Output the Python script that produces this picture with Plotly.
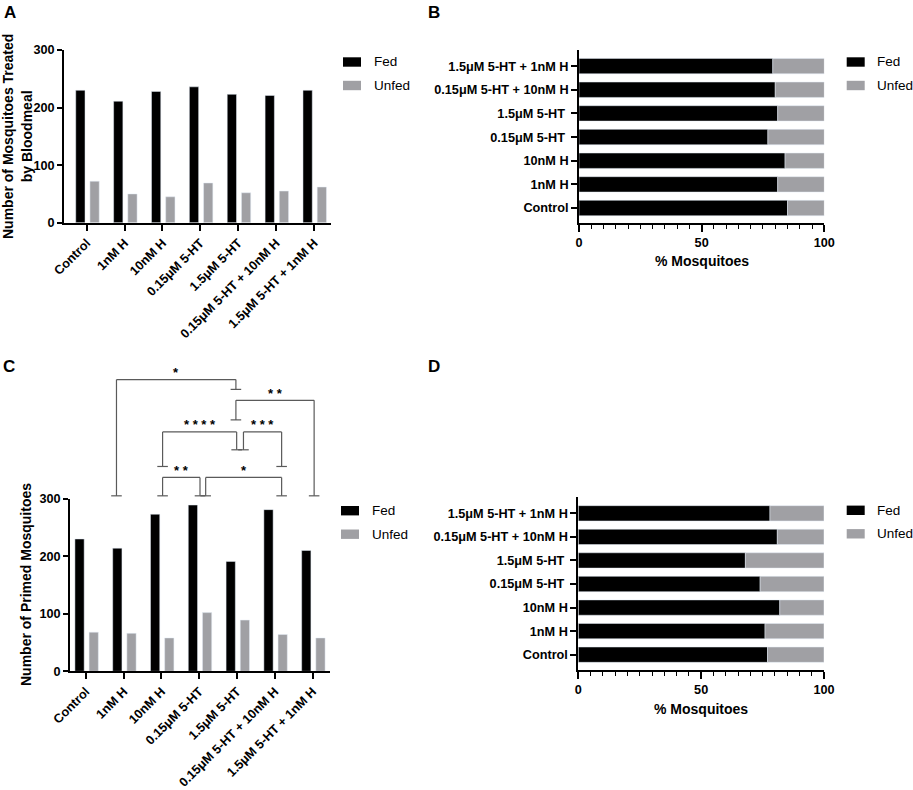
import plotly.graph_objects as go

W, H = 913, 790
FONT = "Liberation Sans, Arial, Helvetica, sans-serif"
FED_COLOR = "#000000"
UNFED_COLOR = "#a0a0a4"
BRACKET_COLOR = "#5a5a5a"

# ---------------- data ----------------
categories = ["Control", "1nM H", "10nM H", "0.15μM 5-HT", "1.5μM 5-HT",
              "0.15μM 5-HT + 10nM H", "1.5μM 5-HT + 1nM H"]
hbar_labels = ["Control", "1nM H", "10nM H", "0.15μM 5-HT\u00a0", "1.5μM 5-HT\u00a0",
               "0.15μM 5-HT + 10nM H", "1.5μM 5-HT + 1nM H"]
legend_labels = ["Fed", "Unfed"]

a_fed = [230, 211, 228, 236, 223, 221, 230]
a_unfed = [72, 50, 45, 69, 52, 55, 62]

b_fed_pct = [85, 81, 84, 77, 81, 80, 79]
b_unfed_pct = [15, 19, 16, 23, 19, 20, 21]

c_fed = [230, 214, 273, 289, 191, 281, 210]
c_unfed = [68, 66, 58, 102, 89, 64, 58]

d_fed_pct = [77, 76, 82, 74, 68, 81, 78]
d_unfed_pct = [23, 24, 18, 26, 32, 19, 22]

y_ticks = [0, 100, 200, 300]
pct_ticks = [0, 50, 100]

# significance brackets for panel C:
# (x_left, x_right, y_top, y_left_end, y_right_end, label) in category / count units
c_brackets = [
    (0.81, 3.97, 507, 305, 490, "*"),
    (3.97, 6.04, 471, 437, 305, "* *"),
    (2.03, 3.99, 416, 356, 385, "* * * *"),
    (4.17, 5.18, 416, 385, 356, "* * *"),
    (2.03, 3.02, 337, 305, 305, "* *"),
    (3.17, 5.18, 337, 305, 305, "*"),
]


def px(x):
    return x / W


def py(y):
    return 1 - y / H


# panel domains (paper)
A_X = [px(64), px(331)]
A_Y = [py(222.7), py(50)]
B_X = [px(579), px(824.3)]
B_Y = [py(222.7), py(50)]
C_X = [px(70), px(330)]
C_Y = [py(671.3), py(498.7)]
D_X = [px(578.3), px(824)]
D_Y = [py(670), py(497.3)]

fig = go.Figure()

# Panel A
fig.add_trace(go.Bar(x=categories, y=a_fed, name="Fed", marker_color=FED_COLOR,
                     width=0.245, offset=-0.29, xaxis="x", yaxis="y", showlegend=False))
fig.add_trace(go.Bar(x=categories, y=a_unfed, name="Unfed", marker_color=UNFED_COLOR,
                     width=0.245, offset=0.085, xaxis="x", yaxis="y", showlegend=False))
# Panel B (stacked horizontal)
fig.add_trace(go.Bar(y=hbar_labels, x=b_fed_pct, orientation="h", name="Fed",
                     marker_color=FED_COLOR, width=0.65, offset=-0.325,
                     xaxis="x2", yaxis="y2", showlegend=False))
fig.add_trace(go.Bar(y=hbar_labels, x=b_unfed_pct, base=b_fed_pct, orientation="h", name="Unfed",
                     marker_color=UNFED_COLOR, width=0.65, offset=-0.325,
                     xaxis="x2", yaxis="y2", showlegend=False))
# Panel C
fig.add_trace(go.Bar(x=categories, y=c_fed, name="Fed", marker_color=FED_COLOR,
                     width=0.245, offset=-0.29, xaxis="x3", yaxis="y3", showlegend=False))
fig.add_trace(go.Bar(x=categories, y=c_unfed, name="Unfed", marker_color=UNFED_COLOR,
                     width=0.245, offset=0.085, xaxis="x3", yaxis="y3", showlegend=False))
# Panel D
fig.add_trace(go.Bar(y=hbar_labels, x=d_fed_pct, orientation="h", name="Fed",
                     marker_color=FED_COLOR, width=0.65, offset=-0.325,
                     xaxis="x4", yaxis="y4", showlegend=False))
fig.add_trace(go.Bar(y=hbar_labels, x=d_unfed_pct, base=d_fed_pct, orientation="h", name="Unfed",
                     marker_color=UNFED_COLOR, width=0.65, offset=-0.325,
                     xaxis="x4", yaxis="y4", showlegend=False))

tickfont = dict(family=FONT, size=12.7, color="black", weight="bold")
base_axis = dict(showline=True, linecolor="black", linewidth=1.8, ticks="outside",
                 tickcolor="black", tickwidth=1.6, ticklen=5, showgrid=False,
                 zeroline=False, tickfont=tickfont, fixedrange=True, automargin=False)

cat_x = dict(base_axis, type="category", tickangle=-45, ticklen=6)
count_y = dict(base_axis, range=[0, 300], tickvals=y_ticks, ticklen=5)
pct_x = dict(base_axis, range=[0, 100], tickvals=pct_ticks, ticklen=7,
             minor=dict(dtick=5, ticks="outside", ticklen=4, tickwidth=1.4, tickcolor="black"))
cat_y = dict(base_axis, type="category", ticklen=6)

fig.update_layout(
    width=W, height=H, margin=dict(l=0, r=0, t=0, b=0, autoexpand=False),
    paper_bgcolor="white", plot_bgcolor="white",
    barmode="overlay",
    font=dict(family=FONT, color="black"),
    xaxis=dict(cat_x, domain=A_X, range=[-0.6, 6.45], anchor="y"),
    yaxis=dict(count_y, domain=A_Y, anchor="x"),
    xaxis2=dict(pct_x, domain=B_X, anchor="y2"),
    yaxis2=dict(cat_y, domain=B_Y, range=[-0.62, 6.68], anchor="x2"),
    xaxis3=dict(cat_x, domain=C_X, range=[-0.42, 6.46], anchor="y3"),
    yaxis3=dict(count_y, domain=C_Y, anchor="x3"),
    xaxis4=dict(pct_x, domain=D_X, anchor="y4"),
    yaxis4=dict(cat_y, domain=D_Y, range=[-0.65, 6.68], anchor="x4"),
)

shapes = []
annotations = []

# panel letters
for letter, (lx, ly) in zip("ABCD", [(10, 12.5), (434, 12.5), (9, 366.7), (434, 366.7)]):
    annotations.append(dict(text=f"<b>{letter}</b>", x=px(lx), y=py(ly), xref="paper", yref="paper",
                            xanchor="center", yanchor="middle", showarrow=False,
                            font=dict(family=FONT, size=17, color="black")))

# axis titles
title_font = dict(family=FONT, size=14, color="black", weight="bold")
annotations.append(dict(text="Number of Mosquitoes Treated<br>by Bloodmeal", textangle=-90,
                        x=px(17.7), y=py(136.3), xref="paper", yref="paper",
                        xanchor="center", yanchor="middle", showarrow=False, font=title_font))
annotations.append(dict(text="Number of Primed Mosquitoes", textangle=-90,
                        x=px(26), y=py(585), xref="paper", yref="paper",
                        xanchor="center", yanchor="middle", showarrow=False, font=title_font))
annotations.append(dict(text="% Mosquitoes", x=px(701.5), y=py(261), xref="paper", yref="paper",
                        xanchor="center", yanchor="middle", showarrow=False, font=title_font))
annotations.append(dict(text="% Mosquitoes", x=px(701.2), y=py(709.3), xref="paper", yref="paper",
                        xanchor="center", yanchor="middle", showarrow=False, font=title_font))

# legends (one per panel)
legend_pos = [(343, 62, 372), (846.7, 62, 875), (341, 510.7, 370), (846.7, 510.3, 875)]
for (rx, ry, tx) in legend_pos:
    for i, (lab, col) in enumerate(zip(legend_labels, [FED_COLOR, UNFED_COLOR])):
        yy = ry + i * 23.5
        shapes.append(dict(type="rect", xref="paper", yref="paper",
                           x0=px(rx), x1=px(rx + 18), y0=py(yy - 4.7), y1=py(yy + 4.7),
                           fillcolor=col, line=dict(width=0)))
        annotations.append(dict(text=lab, x=px(tx), y=py(yy), xref="paper", yref="paper",
                                xanchor="left", yanchor="middle", showarrow=False,
                                font=dict(family=FONT, size=13.5, color="black")))


# significance brackets in panel C
def cy(v):
    return C_Y[0] + v / 300 * (C_Y[1] - C_Y[0])


cap = 0.14
line_style = dict(color=BRACKET_COLOR, width=1.2)
for xl, xr, ytop, yl, yr, lab in c_brackets:
    for (xa, ya, xb, yb) in [(xl, yl, xl, ytop), (xl, ytop, xr, ytop), (xr, ytop, xr, yr),
                             (xl - cap, yl, xl + cap, yl), (xr - cap, yr, xr + cap, yr)]:
        shapes.append(dict(type="line", xref="x3", yref="paper", x0=xa, x1=xb,
                           y0=cy(ya), y1=cy(yb), line=line_style))
    annotations.append(dict(text=f"<b>{lab}</b>", x=(xl + xr) / 2, y=cy(ytop), xref="x3", yref="paper",
                            xanchor="center", yanchor="middle", yshift=7, showarrow=False,
                            font=dict(family=FONT, size=13, color="black")))

fig.update_layout(shapes=shapes, annotations=annotations)

fig.write_html("out.html", config={"displayModeBar": False},
               post_script="document.body.style.margin='0px';document.body.style.overflow='hidden';")
